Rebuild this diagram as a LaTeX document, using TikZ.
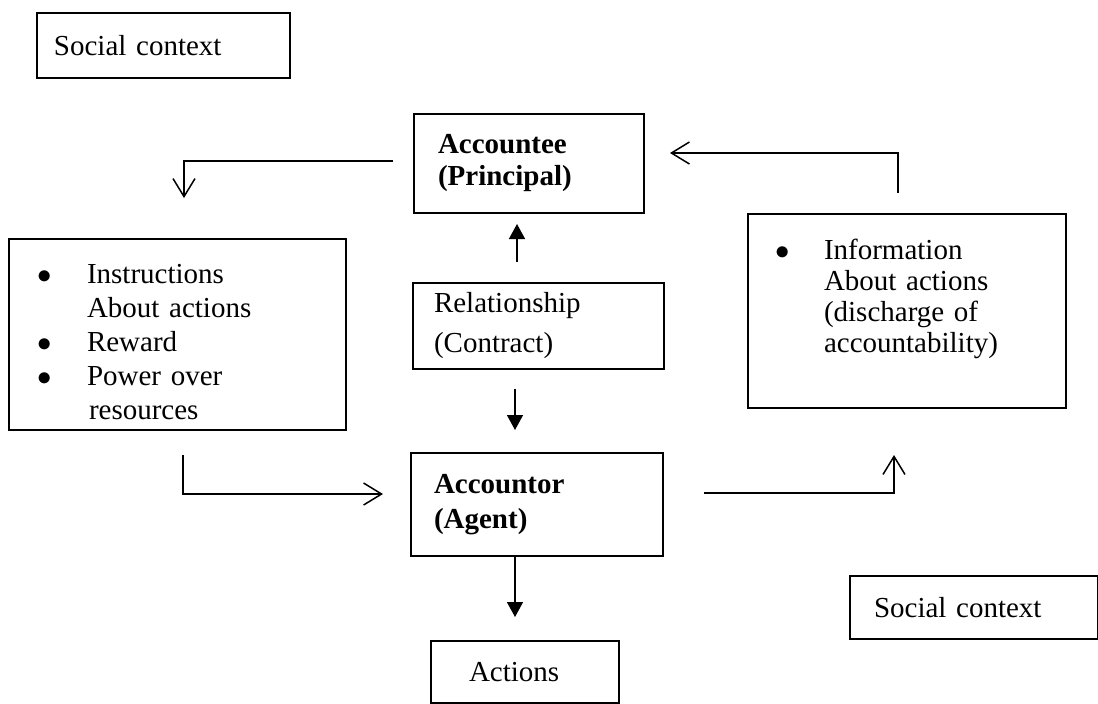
\documentclass[tikz,border=0pt]{standalone}
\usepackage{fontspec}
\setmainfont{Liberation Serif}
\usetikzlibrary{arrows.meta}

% list marker: a filled round dot
\newcommand{\listdot}{\makebox[25.5pt][l]{\hspace{1pt}$\bullet$}}

\begin{document}
\begin{tikzpicture}[x=0.5pt,y=-0.5pt,
  box/.style={draw,line width=1pt,rectangle,anchor=north west,align=left,
    inner ysep=0pt,font=\fontsize{14.5}{16}\selectfont},
  link/.style={line width=0.75pt,
    -{Straight Barb[length=9pt,width=11pt,line width=0.75pt]}},
  flow/.style={line width=0.75pt,-{Triangle[length=7.5pt,width=8pt]}}]
\useasboundingbox (0,0) rectangle (1098,703);

% boxes
\node[box,minimum width=126.5pt,minimum height=32.5pt,inner xsep=8.5pt,
  text width=109.5pt] (sc1) at (36,12) {Social context};

\node[box,minimum width=115pt,minimum height=49.5pt,inner xsep=12pt,
  text width=91pt,font=\bfseries\fontsize{14.5}{16}\selectfont] (pe) at (413,113)
  {Accountee\\(Principal)};

\node[box,minimum width=168.5pt,minimum height=95.5pt,inner xsep=13.5pt,
  text width=141.5pt,font=\fontsize{14.5}{17}\selectfont] (instr) at (8,238)
  {\rule{0pt}{17.5pt}\listdot Instructions\\
   \hspace*{25.5pt}About actions\\
   \listdot Reward\\
   \listdot Power over\\
   \hspace*{26.5pt}resources};

\node[box,minimum width=125.5pt,minimum height=43pt,inner xsep=10.5pt,
  text width=104.5pt,font=\fontsize{14.5}{20}\selectfont] (rel) at (412,282)
  {Relationship\\(Contract)};

\node[box,minimum width=159pt,minimum height=97pt,inner xsep=12.5pt,
  text width=134pt,font=\fontsize{14.5}{15.5}\selectfont] (info) at (747,213)
  {\listdot Information\\
   \hspace*{25.5pt}About actions\\
   \hspace*{25.5pt}(discharge of\\
   \hspace*{25.5pt}accountability)\rule[-15pt]{0pt}{15pt}};

\node[box,minimum width=126pt,minimum height=51.5pt,inner xsep=11.5pt,
  text width=103pt,font=\bfseries\fontsize{14.5}{17.5}\selectfont] (ag) at (410,452)
  {Accountor\\(Agent)};

\node[box,minimum width=94pt,minimum height=31pt,inner xsep=19pt,
  text width=56pt] (act) at (430,640) {Actions};

\node[box,minimum width=124pt,minimum height=31.5pt,inner xsep=12pt,
  text width=100pt] (sc2) at (849,575) {Social context};

% open-headed loop connectors
\draw[link] ([xshift=-10pt,yshift=1.25pt]pe.west)
  -| ([xshift=3.25pt,yshift=20pt]instr.north);
\draw[link] ([xshift=2.75pt,yshift=-12pt]instr.south)
  |- ([xshift=-13.5pt,yshift=5.25pt]ag.west);
\draw[link] ([xshift=20pt,yshift=5.75pt]ag.east)
  -| ([xshift=-6.5pt,yshift=-23pt]info.south);
\draw[link] ([xshift=-4.5pt,yshift=10pt]info.north)
  |- ([xshift=12.5pt,yshift=5.25pt]pe.east);

% solid-headed vertical connectors
\draw[flow,shorten >=5pt] ([xshift=-10.75pt,yshift=10pt]rel.north)
  -- ([xshift=-10.75pt]rel.north |- pe.south);
\draw[flow,shorten >=11pt] ([xshift=-11.75pt,yshift=-9.5pt]rel.south)
  -- ([xshift=-11.75pt]rel.south |- ag.north);
\draw[flow,shorten >=11.5pt] ([xshift=-11pt]ag.south)
  -- ([xshift=-11pt]ag.south |- act.north);
\end{tikzpicture}
\end{document}
